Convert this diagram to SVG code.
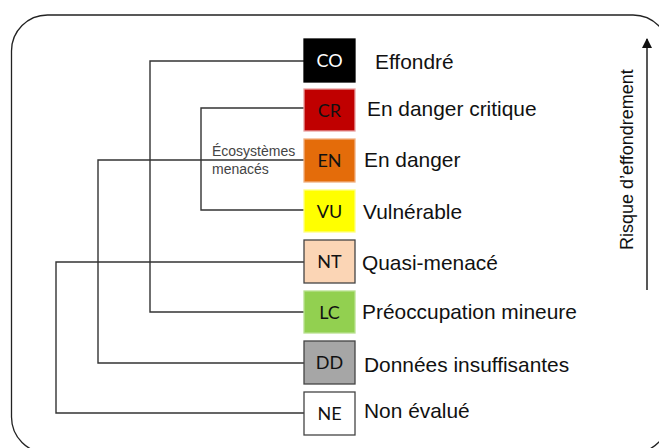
<svg xmlns="http://www.w3.org/2000/svg" width="659" height="448" viewBox="0 0 659 448">
<defs>
<style>
.frame{fill:none;stroke:#222;stroke-width:1.3}
.conn{fill:none;stroke:#333;stroke-width:1.4}
.box{stroke-width:1.3}
.code{font-family:Lato,"Liberation Sans",sans-serif;font-size:18px;text-anchor:middle;fill:#111}
.lbl{font-family:"Liberation Sans",Arial,sans-serif;font-size:20.9px;fill:#111}
.note{font-family:"Liberation Sans",Arial,sans-serif;font-size:14px;fill:#444}
.axis{font-family:"Liberation Sans",Arial,sans-serif;font-size:18px;fill:#111}
</style>
<marker id="ah" markerWidth="10" markerHeight="10" refX="9" refY="5" orient="auto" markerUnits="userSpaceOnUse">
<path d="M0,0 L10,5 L0,10 z" fill="#111"/>
</marker>
</defs>
<rect class="frame" x="11.5" y="15" width="657.5" height="438" rx="36" ry="36"/>
<g id="connectors">
<path class="conn" d="M304,61 H150 V312 H304"/>
<path class="conn" d="M304,108 H201 V210 H304"/>
<path class="conn" d="M304,160 H98 V363 H304"/>
<path class="conn" d="M304,262 H56 V413 H304"/>
<line x1="647" y1="290" x2="647" y2="39" stroke="#111" stroke-width="1.4" marker-end="url(#ah)"/>
</g>
<g id="note">
<text class="note" x="212" y="156">Écosystèmes</text>
<text class="note" x="212" y="174">menacés</text>
</g>
<g id="CO">
<rect class="box" x="304" y="39" width="51" height="43" fill="#000" stroke="#000"/>
<text class="code" x="329.5" y="67" style="fill:#fff">CO</text>
<text class="lbl" x="375" y="69">Effondré</text>
</g>
<g id="CR">
<rect class="box" x="304" y="89" width="51" height="42" fill="#C00000" stroke="#e8a0a0"/>
<text class="code" x="329.5" y="116.5">CR</text>
<text class="lbl" x="367" y="116">En danger critique</text>
</g>
<g id="EN">
<rect class="box" x="304" y="139" width="51" height="43" fill="#E46C0A" stroke="#f0b080"/>
<text class="code" x="329.5" y="167">EN</text>
<text class="lbl" x="364" y="167">En danger</text>
</g>
<g id="VU">
<rect class="box" x="304" y="190" width="51" height="42" fill="#FFFF00" stroke="#ffff80"/>
<text class="code" x="329.5" y="217.5">VU</text>
<text class="lbl" x="363" y="219">Vulnérable</text>
</g>
<g id="NT">
<rect class="box" x="304" y="240" width="51" height="43" fill="#FBD5B5" stroke="#444"/>
<text class="code" x="329.5" y="268">NT</text>
<text class="lbl" x="362" y="270">Quasi-menacé</text>
</g>
<g id="LC">
<rect class="box" x="304" y="291" width="51" height="42" fill="#92D050" stroke="#b8e090"/>
<text class="code" x="329.5" y="318.5">LC</text>
<text class="lbl" x="362" y="319">Préoccupation mineure</text>
</g>
<g id="DD">
<rect class="box" x="304" y="341" width="51" height="43" fill="#A6A6A6" stroke="#444"/>
<text class="code" x="329.5" y="369">DD</text>
<text class="lbl" x="364" y="372">Données insuffisantes</text>
</g>
<g id="NE">
<rect class="box" x="304" y="392" width="51" height="43" fill="#fff" stroke="#444"/>
<text class="code" x="329.5" y="420">NE</text>
<text class="lbl" x="364" y="418">Non évalué</text>
</g>
<g id="axis-label">
<text class="axis" transform="translate(633,250) rotate(-90)">Risque d’effondrement</text>
</g>
</svg>
